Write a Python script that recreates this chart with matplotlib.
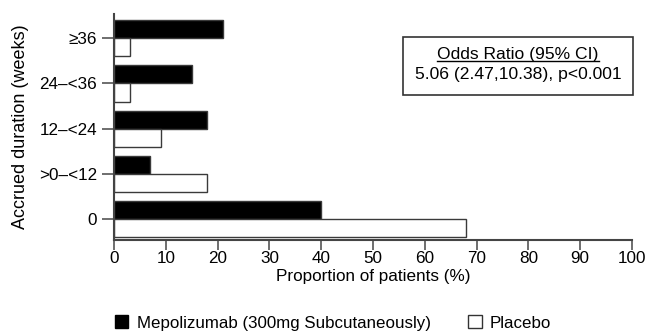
import matplotlib
matplotlib.use("Agg")
import matplotlib.pyplot as plt
from matplotlib.patches import Patch, Rectangle
from matplotlib.lines import Line2D
import numpy as np

plt.rcParams['font.family'] = ['Liberation Sans', 'DejaVu Sans']

categories = ["0", ">0\u2013<12", "12\u2013<24", "24\u2013<36", "\u226536"]
mepolizumab = [40, 7, 18, 15, 21]
placebo = [68, 18, 9, 3, 3]
xticks = [0, 10, 20, 30, 40, 50, 60, 70, 80, 90, 100]

W, H = 649, 335
fig = plt.figure(figsize=(W / 100, H / 100), dpi=100)
ax = fig.add_axes([114 / W, 1 - 240 / H, (632 - 114) / W, (240 - 14) / H])

y = np.arange(len(categories))
bh = 0.4
edge = "#3a3a3a"
ax.barh(y, mepolizumab, height=bh, align="edge", color="black", edgecolor=edge, linewidth=1)
ax.barh(y - bh, placebo, height=bh, align="edge", color="white", edgecolor=edge, linewidth=1)

ax.set_xlim(0, 100)
ax.set_ylim(-0.47, 4.54)
ax.set_xticks(xticks)
ax.set_xticklabels([str(t) for t in xticks], fontsize=12.3)
ax.set_yticks(y)
ax.set_yticklabels(categories, fontsize=12.3)
ax.tick_params(axis="x", length=7, width=1.2, color="#555555", pad=1)
ax.tick_params(axis="y", length=9, width=1.2, color="#555555", pad=3)
for s in ["top", "right"]:
    ax.spines[s].set_visible(False)
for s in ["left", "bottom"]:
    ax.spines[s].set_color("#444444")
    ax.spines[s].set_linewidth(1.5)
ax.set_xlabel("Proportion of patients (%)", fontsize=12.3, labelpad=2)
ax.set_ylabel("Accrued duration (weeks)", fontsize=13, labelpad=7)

# Odds ratio box
bx0, bx1, by0, by1 = 403, 633, 37, 95
fig.patches.append(Rectangle((bx0 / W, 1 - by1 / H), (bx1 - bx0) / W, (by1 - by0) / H,
                             transform=fig.transFigure, fill=False, edgecolor="#333333",
                             linewidth=1.2))
cx = (bx0 + bx1) / 2 / W
t1 = fig.text(cx, 1 - 54 / H, "Odds Ratio (95% CI)", ha="center", va="center", fontsize=12.6)
fig.text(cx, 1 - 75 / H, "5.06 (2.47,10.38), p<0.001", ha="center", va="center", fontsize=12.6)
fig.canvas.draw()
bb = t1.get_window_extent(renderer=fig.canvas.get_renderer())
uy = (bb.y0 + 1) / H
fig.add_artist(Line2D([bb.x0 / W, bb.x1 / W], [uy, uy], transform=fig.transFigure,
                      color="black", linewidth=1))

handles = [Patch(facecolor="black", edgecolor="black", label="Mepolizumab (300mg Subcutaneously)"),
           Patch(facecolor="white", edgecolor="#333333", label="Placebo")]
fig.legend(handles=handles, loc="center left", bbox_to_anchor=(108 / W, 1 - 323 / H),
           ncol=2, frameon=False, fontsize=12.2, handlelength=0.8, handleheight=0.8,
           handletextpad=0.5, columnspacing=2.2, borderaxespad=0)

fig.savefig("out.png", dpi=100)
